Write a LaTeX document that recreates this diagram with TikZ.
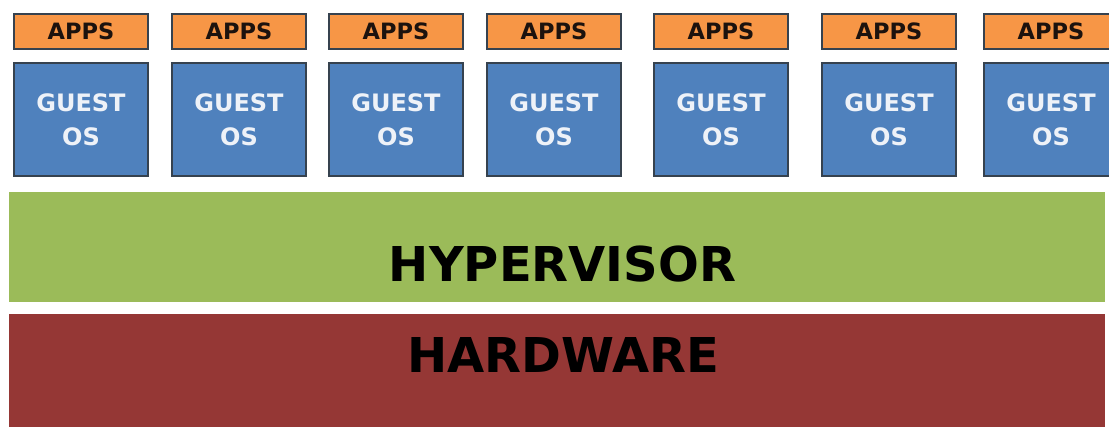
\documentclass[tikz,border=0pt]{standalone}
\usepackage{fontspec}
\setmainfont{DejaVu Sans}
\usetikzlibrary{calc}
\definecolor{appsfill}{HTML}{F79646}
\definecolor{osfill}{HTML}{4F81BD}
\definecolor{boxedge}{HTML}{36424F}
\definecolor{hypfill}{HTML}{9BBB59}
\definecolor{hwfill}{HTML}{953735}
\definecolor{darktext}{HTML}{1C120E}
\definecolor{lighttext}{HTML}{EEF2F8}
\tikzset{
  appsbox/.style={draw=boxedge, line width=2.6pt, fill=appsfill, rectangle,
    minimum width=134pt, minimum height=35pt, inner sep=0pt,
    text=darktext, font=\fontsize{22.5}{27}\selectfont\bfseries,
    text height=16.4pt, text depth=0pt},
  osbox/.style={draw=boxedge, line width=2.6pt, fill=osfill, rectangle,
    minimum width=134pt, minimum height=113pt, inner sep=0pt, align=center,
    text=lighttext, font=\fontsize{24}{34}\selectfont\bfseries},
  layer/.style={rectangle, inner sep=0pt, minimum width=1096pt},
  layertext/.style={anchor=base, text=black, font=\fontsize{48}{58}\selectfont\bfseries, inner sep=0pt}
}
\begin{document}
\begin{tikzpicture}[x=1pt, y=-1pt]
  \fill[white] (0,0) rectangle (1109,427);
  \clip (0,0) rectangle (1109,427);
  % guest stacks: applications on top of a guest operating system
  \foreach \i/\cx in {1/81, 2/239, 3/396, 4/554, 5/721, 6/889, 7/1051} {
    \node[appsbox] (apps\i) at (\cx,31.5) {APPS};
    \node[osbox] (os\i) at (\cx,119.5) {GUEST\\OS};
  }
  % hypervisor layer
  \node[layer, fill=hypfill, minimum height=110pt] (hyp) at (557,247) {};
  \node[layertext] (hyptxt) at ($(hyp.center)+(5.5,35)$) {HYPERVISOR};
  % hardware layer
  \node[layer, fill=hwfill, minimum height=120pt] (hw) at (557,374) {};
  \node[layertext] (hwtxt) at ($(hw.center)+(6.5,-1)$) {HARDWARE};
\end{tikzpicture}
\end{document}
